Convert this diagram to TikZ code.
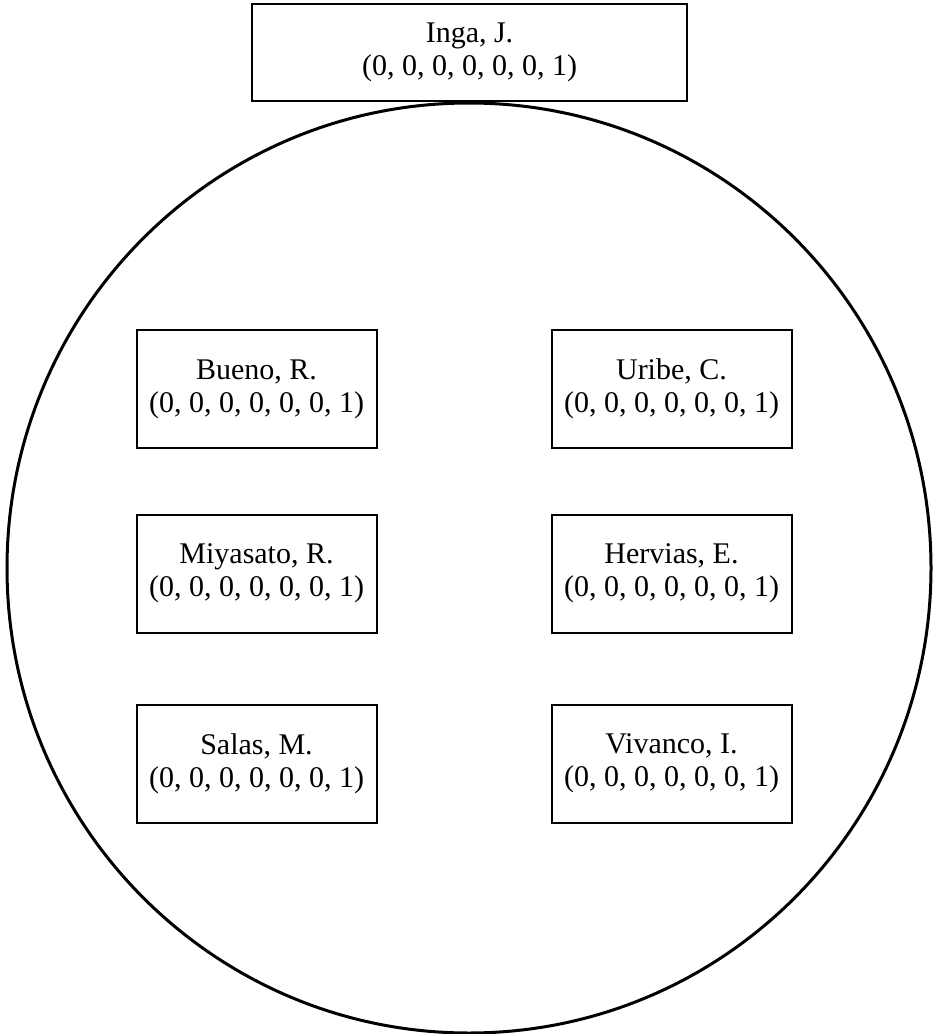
\documentclass[tikz,border=0pt]{standalone}
\usepackage{fontspec}
\setmainfont{Liberation Serif}
\usetikzlibrary{shapes.geometric}
\begin{document}
\begin{tikzpicture}[x=1pt,y=-1pt,
  member/.style={draw, line width=2pt, minimum width=240pt, minimum height=118pt, align=center, inner sep=0pt,
    font=\fontsize{30}{33}\selectfont},
  leader/.style={draw, line width=2.8pt, fill=white, minimum width=435pt, minimum height=97pt, align=center, inner sep=0pt,
    font=\fontsize{30}{33}\selectfont},
  ring/.style={draw, line width=3pt}]
\useasboundingbox (0,0) rectangle (933,1034);
\node[ring, ellipse, minimum width=924pt, minimum height=930pt, inner sep=0pt] (circ) at (469,568) {};
\node[leader] (inga) at (469.5,52.5) {Inga, J.\\(0, 0, 0, 0, 0, 0, 1)};
\node[member] (bueno) at (256.5,389) {Bueno, R.\\(0, 0, 0, 0, 0, 0, 1)};
\node[member] (uribe) at (671.5,389) {Uribe, C.\\(0, 0, 0, 0, 0, 0, 1)};
\node[member] (miyasato) at (256.5,573.5) {Miyasato, R.\\(0, 0, 0, 0, 0, 0, 1)};
\node[member] (hervias) at (671.5,573.5) {Hervias, E.\\(0, 0, 0, 0, 0, 0, 1)};
\node[member] (salas) at (256.5,763.5) {Salas, M.\\(0, 0, 0, 0, 0, 0, 1)};
\node[member] (vivanco) at (671.5,763.5) {Vivanco, I.\\(0, 0, 0, 0, 0, 0, 1)};
\end{tikzpicture}
\end{document}
